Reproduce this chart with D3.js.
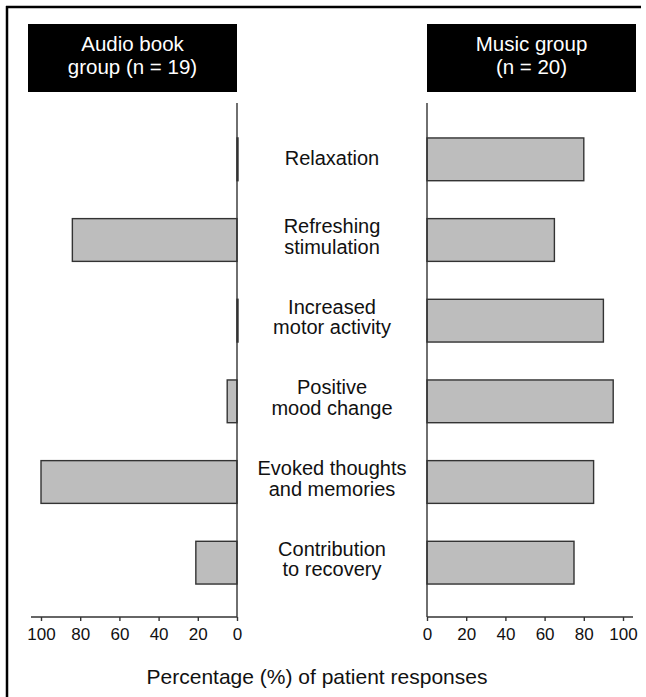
<!DOCTYPE html>
<html>
<head>
<meta charset="utf-8">
<script src="https://cdn.jsdelivr.net/npm/d3@7"></script>
<style>
  body { margin: 0; background: #fff; }
  svg { display: block; font-family: "Liberation Sans", Arial, sans-serif; }
  .bar { fill: #bdbdbd; stroke: #333; stroke-width: 1.4; }
  .axis path, .axis line { stroke: #333; stroke-width: 1.4; }
</style>
</head>
<body>
<svg id="chart" width="646" height="697"></svg>
<script>
// responses per category, percent of patients
var categories = [
    ["Relaxation"],
    ["Refreshing", "stimulation"],
    ["Increased", "motor activity"],
    ["Positive", "mood change"],
    ["Evoked thoughts", "and memories"],
    ["Contribution", "to recovery"]
];
var audioBookValues = [0, 84, 0, 5, 100, 21];   // n = 19
var musicValues = [80, 65, 90, 95, 85, 75];      // n = 20
var tickValues = [0, 20, 40, 60, 80, 100];
var audioTitle = ["Audio book", "group (n = 19)"];
var musicTitle = ["Music group", "(n = 20)"];
var axisTitle = "Percentage (%) of patient responses";

var svg = d3.select("#chart");

var leftPanel = {x0: 237, x100: 41};
var rightPanel = {x0: 427, x100: 623};
var axisTop = 103, axisBottom = 617;

var yScale = d3.scaleBand()
    .domain(d3.range(categories.length))
    .range([119, 603])
    .paddingInner(0.47)
    .paddingOuter(0.235);

var xLeft = d3.scaleLinear().domain([0, 100]).range([leftPanel.x0, leftPanel.x100]);
var xRight = d3.scaleLinear().domain([0, 100]).range([rightPanel.x0, rightPanel.x100]);

// frame (right and bottom edges fall outside the picture)
svg.append('line').attr('x1', 7).attr('x2', 7).attr('y1', 6).attr('y2', 697)
    .attr('stroke', '#000').attr('stroke-width', 2.5);
svg.append('line').attr('x1', 6).attr('x2', 641).attr('y1', 7).attr('y2', 7)
    .attr('stroke', '#000').attr('stroke-width', 2.5);

function drawPanel(values, xScale, title, side) {
    var g = svg.append('g');
    var dir = side === 'left' ? -1 : 1;

    // header box
    var bx0 = Math.min(xScale(0), xScale(100) + dir * 13);
    var bx1 = Math.max(xScale(0), xScale(100) + dir * 13);
    g.append('rect')
        .attr('x', bx0).attr('y', 24)
        .attr('width', bx1 - bx0).attr('height', 68)
        .attr('fill', '#000');
    g.selectAll('text.head').data(title).enter()
        .append('text')
        .attr('class', 'head')
        .attr('x', (bx0 + bx1) / 2)
        .attr('y', function(d, i) { return 51 + i * 23; })
        .attr('text-anchor', 'middle')
        .attr('fill', '#fff')
        .style('font-size', '20.5px')
        .text(function(d) { return d; });

    // bars
    g.selectAll('rect.bar').data(values).enter()
        .append('rect')
        .attr('class', 'bar')
        .attr('x', function(d) { return Math.min(xScale(0), xScale(d)); })
        .attr('width', function(d) { return Math.max(1, Math.abs(xScale(d) - xScale(0))); })
        .attr('y', function(d, i) { return yScale(i); })
        .attr('height', yScale.bandwidth());

    // vertical axis line
    g.append('line')
        .attr('x1', xScale(0)).attr('x2', xScale(0))
        .attr('y1', axisTop).attr('y2', axisBottom)
        .attr('stroke', '#333').attr('stroke-width', 1.4);

    // bottom axis
    var axis = g.append('g')
        .attr('class', 'axis')
        .attr('transform', 'translate(0,' + axisBottom + ')')
        .call(d3.axisBottom(xScale).tickValues(tickValues).tickSize(4).tickSizeOuter(0).tickPadding(7));
    axis.select('.domain').remove();
    axis.insert('line', ':first-child')
        .attr('x1', xScale(0)).attr('x2', xScale(100) + dir * 10)
        .attr('stroke', '#333').attr('stroke-width', 1.4);
    axis.selectAll('text')
        .attr('fill', '#111')
        .style('font-size', '17px')
        .style('font-family', '"Liberation Sans", Arial, sans-serif');
}

drawPanel(audioBookValues, xLeft, audioTitle, 'left');
drawPanel(musicValues, xRight, musicTitle, 'right');

// category labels in the middle
var labelX = (leftPanel.x0 + rightPanel.x0) / 2;
var labels = svg.append('g');
categories.forEach(function(lines, i) {
    var cy = yScale(i) + yScale.bandwidth() / 2;
    var start = lines.length === 1 ? cy + 6 : cy - 7;
    lines.forEach(function(line, j) {
        labels.append('text')
            .attr('x', labelX)
            .attr('y', start + j * 20.5)
            .attr('text-anchor', 'middle')
            .attr('fill', '#111')
            .style('font-size', '20px')
            .text(line);
    });
});

// axis title
svg.append('text')
    .attr('x', 317)
    .attr('y', 684)
    .attr('text-anchor', 'middle')
    .attr('fill', '#111')
    .style('font-size', '21px')
    .text(axisTitle);
</script>
</body>
</html>
